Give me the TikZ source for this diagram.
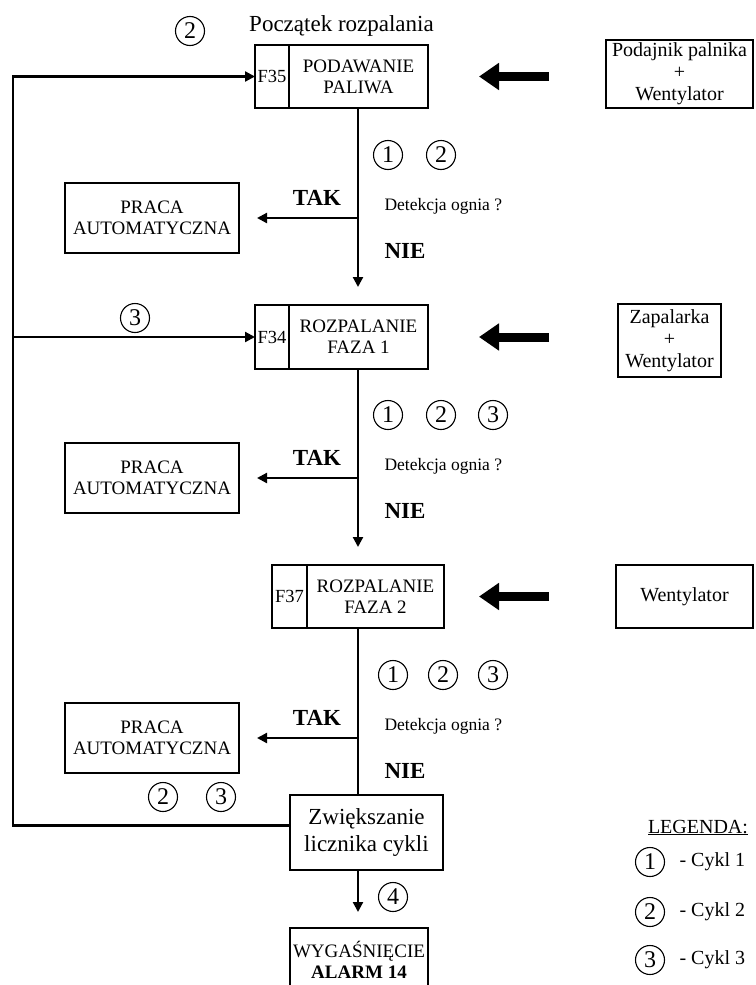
\documentclass[tikz,border=0pt]{standalone}
\usepackage{fontspec}
\setmainfont{Liberation Serif}
\usetikzlibrary{arrows.meta}

\begin{document}
\begin{tikzpicture}[x=1pt, y=-1pt,
		box/.style={draw, line width=2.4pt, outer sep=0pt, inner sep=0pt, align=center, font=\fontsize{19}{21}\selectfont},
		cell/.style={box, font=\fontsize{18.5}{21}\selectfont},
		side/.style={box, font=\fontsize{20}{22}\selectfont},
		nr/.style={draw, circle, line width=1.1pt, minimum size=29pt, inner sep=0pt, font=\fontsize{24}{24}\selectfont},
		flow/.style={line width=2.2pt, -{Triangle[length=10pt, width=10pt]}},
		feed/.style={line width=9pt, -{Triangle[length=20pt, width=26pt]}},
		txt/.style={font=\fontsize{17.5}{20}\selectfont},
		leg/.style={font=\fontsize{20}{22}\selectfont},
		yes/.style={font=\bfseries\fontsize{23}{25}\selectfont}]
		\useasboundingbox (0,0) rectangle (755,985);
		\coordinate (os) at (358,0);
		\coordinate (lewy) at (13,0);

		\node[font=\fontsize{23}{26}\selectfont, anchor=base] (tytul) at (341.5,31) {Początek rozpalania};
		\node[cell, minimum width=34pt, minimum height=63pt] (f35) at (272,76.5) {F35};
		\node[box, minimum width=139pt, minimum height=63pt, anchor=west] (podawanie) at (f35.east) {PODAWANIE\\PALIWA};
		\node[side, minimum width=147pt, minimum height=68pt] (podajnik) at (679.5,74) {Podajnik palnika\\+\\Wentylator};
		\draw[feed, shorten <=57pt, shorten >=51pt] (podajnik.west |- podawanie.east) -- (podawanie.east);

		\node[box, minimum width=174pt, minimum height=70pt] (praca1) at (152,218) {PRACA\\AUTOMATYCZNA};
		\node[nr] (k1a) at (388,155) {1};
		\node[nr] (k1b) at (441,155) {2};
		\node[yes, anchor=base] (tak1) at (317,205) {TAK};
		\node[yes, anchor=base west] (nie1) at (381,258) {NIE};
		\node[txt, anchor=base west] (det1) at (381,210) {Detekcja ognia ?};

		\node[cell, minimum width=34pt, minimum height=64pt] (f34) at (272,337) {F34};
		\node[box, minimum width=139pt, minimum height=64pt, anchor=west] (rozp1) at (f34.east) {ROZPALANIE\\FAZA 1};
		\node[side, minimum width=103pt, minimum height=73pt] (zapalarka) at (669.5,340.5) {Zapalarka\\+\\Wentylator};
		\draw[feed, shorten <=69pt, shorten >=51pt] (zapalarka.west |- rozp1.east) -- (rozp1.east);

		\node[box, minimum width=174pt, minimum height=70pt] (praca2) at (152,478) {PRACA\\AUTOMATYCZNA};
		\node[nr] (k2a) at (388,415) {1};
		\node[nr] (k2b) at (441,415) {2};
		\node[nr] (k2c) at (493,415) {3};
		\node[yes, anchor=base] (tak2) at (317,465) {TAK};
		\node[yes, anchor=base west] (nie2) at (381,518) {NIE};
		\node[txt, anchor=base west] (det2) at (381,470) {Detekcja ognia ?};

		\node[cell, minimum width=35pt, minimum height=63pt] (f37) at (289.5,596.5) {F37};
		\node[box, minimum width=137pt, minimum height=63pt, anchor=west] (rozp2) at (f37.east) {ROZPALANIE\\FAZA 2};
		\node[side, minimum width=137pt, minimum height=63pt] (wentylator) at (684.5,596.5) {Wentylator};
		\draw[feed, shorten <=67pt, shorten >=35pt] (wentylator.west |- rozp2.east) -- (rozp2.east);

		\node[box, minimum width=174pt, minimum height=70pt] (praca3) at (152,738) {PRACA\\AUTOMATYCZNA};
		\node[nr] (k3a) at (393,675) {1};
		\node[nr] (k3b) at (443,675) {2};
		\node[nr] (k3c) at (493,675) {3};
		\node[yes, anchor=base] (tak3) at (317,725) {TAK};
		\node[yes, anchor=base west] (nie3) at (381,778) {NIE};
		\node[txt, anchor=base west] (det3) at (381,730) {Detekcja ognia ?};

		\node[box, minimum width=153pt, minimum height=75pt, font=\fontsize{23}{27}\selectfont] (licznik) at (366.5,832.5) {Zwiększanie\\licznika cykli};
		\node[nr] (kp2) at (163,797) {2};
		\node[nr] (kp3) at (221,797) {3};
		\node[nr] (k4) at (393,897) {4};
		\node[box, minimum width=138pt, minimum height=64pt] (wyg) at (359,960) {WYGAŚNIĘCIE\\\textbf{ALARM 14}};

		\draw[flow, shorten >=18pt] (os |- podawanie.south) -- (os |- rozp1.north);
		\draw[flow, shorten >=18pt] (os |- rozp1.south) -- (os |- rozp2.north);
		\draw[line width=2.2pt] (os |- rozp2.south) -- (os |- licznik.north);
		\draw[flow, shorten >=16pt] (os |- licznik.south) -- (os |- wyg.north);
		\draw[flow, shorten >=18pt] (os |- praca1.east) -- (praca1.east);
		\draw[flow, shorten >=18pt] (os |- praca2.east) -- (praca2.east);
		\draw[flow, shorten >=18pt] (os |- praca3.east) -- (praca3.east);
		\draw[flow] ([yshift=7pt]licznik.west) -| (lewy |- f35.west) -- (f35.west);
		\draw[flow] (lewy |- f34.west) -- (f34.west);
		\node[nr] (k0a) at (190,31) {2};
		\node[nr] (k0b) at (135,318) {3};

		\node[leg, anchor=base] (legenda) at (698,833) {\underline{LEGENDA:}};
		\node[nr] (l1) at (650,862) {1};
		\node[nr] (l2) at (650,912) {2};
		\node[nr] (l3) at (650,960) {3};
		\node[leg, anchor=west] (opis1) at (676,862) {- Cykl 1};
		\node[leg, anchor=west] (opis2) at (676,912) {- Cykl 2};
		\node[leg, anchor=west] (opis3) at (676,960) {- Cykl 3};
	\end{tikzpicture}
\end{document}
